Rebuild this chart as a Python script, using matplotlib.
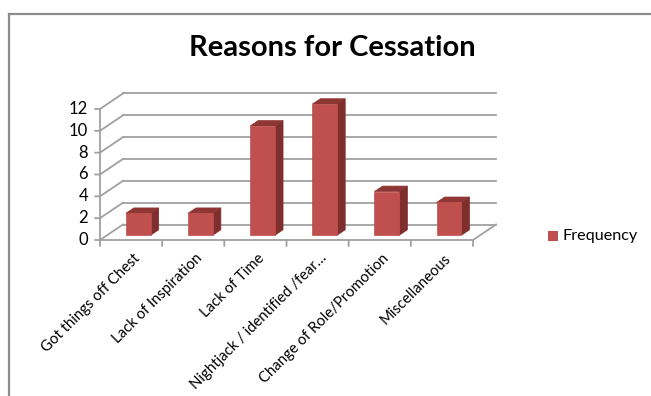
import matplotlib
matplotlib.use("Agg")
import matplotlib.pyplot as plt
from matplotlib.patches import Polygon, Rectangle

categories = ["Got things off Chest", "Lack of Inspiration", "Lack of Time",
              "Nightjack / identified /fear…", "Change of Role/Promotion", "Miscellaneous"]
frequency = [2, 2, 10, 12, 4, 3]
yticks = [0, 2, 4, 6, 8, 10, 12]
title = "Reasons for Cessation"
series_name = "Frequency"

FONT = "Lato"
W, H = 651, 396
fig = plt.figure(figsize=(W / 100, H / 100), dpi=100)

# pixel geometry of the plot region
px_x0, px_xunit = 100, 62.17
px_y0, px_yunit = 240, 10.92
DX, DY = 23 / px_xunit, 15.5 / px_yunit   # depth vector in data units
n = len(categories)
ymax = max(yticks)

ax = fig.add_axes([px_x0 / W, (H - px_y0) / H,
                   (n + DX) * px_xunit / W, (ymax + DY) * px_yunit / H])
ax.set_xlim(0, n + DX)
ax.set_ylim(0, ymax + DY)
ax.axis("off")

grid_c = "#A0A0A0"
lw = 1.3

def P(x, y, d):
    return (x + d * DX, y + d * DY)

# walls / gridlines
for v in yticks:
    ax.plot(*zip(P(0, v, 0), P(0, v, 1)), color=grid_c, lw=lw, clip_on=False, zorder=1)
    ax.plot(*zip(P(0, v, 1), P(n, v, 1)), color=grid_c, lw=lw, clip_on=False, zorder=1)
# floor
ax.plot(*zip(P(0, 0, 0), P(n, 0, 0)), color=grid_c, lw=lw, clip_on=False, zorder=2)
ax.plot(*zip(P(n, 0, 0), P(n, 0, 1)), color=grid_c, lw=lw, clip_on=False, zorder=2)
# front y axis
ax.plot(*zip(P(0, 0, 0), P(0, ymax, 0)), color=grid_c, lw=lw, clip_on=False, zorder=2)

# y ticks and labels
for v in yticks:
    ax.annotate("", xy=(0, v), xytext=(-5, 0), textcoords="offset pixels",
                arrowprops=dict(arrowstyle="-", color=grid_c, lw=lw,
                                shrinkA=0, shrinkB=0))
    ax.annotate(str(v), xy=(0, v), xytext=(-12, 0), textcoords="offset pixels",
                ha="right", va="center", fontsize=12, family=FONT, color="#000000")

# x ticks
for i in range(n + 1):
    ax.annotate("", xy=(i, 0), xytext=(0, -6), textcoords="offset pixels",
                arrowprops=dict(arrowstyle="-", color=grid_c, lw=lw,
                                shrinkA=0, shrinkB=0))

# category labels
for i, c in enumerate(categories):
    ax.annotate(c, xy=(i + 0.5, 0), xytext=(2, -11), textcoords="offset pixels",
                ha="right", va="top", rotation=45, rotation_mode="anchor",
                fontsize=10.7, family=FONT, color="#000000")

# bars
front_c, side_c, top_c = "#C0504D", "#7E2F2D", "#8E3634"
d0, d1 = 0.31, 0.66
bw = 0.4
for i, v in enumerate(frequency):
    xl = i + (1 - bw) / 2
    xr = xl + bw
    front = [P(xl, 0, d0), P(xr, 0, d0), P(xr, v, d0), P(xl, v, d0)]
    side = [P(xr, 0, d0), P(xr, 0, d1), P(xr, v, d1), P(xr, v, d0)]
    top = [P(xl, v, d0), P(xr, v, d0), P(xr, v, d1), P(xl, v, d1)]
    for poly, col in ((side, side_c), (top, top_c), (front, front_c)):
        ax.add_patch(Polygon(poly, closed=True, facecolor=col, edgecolor=col,
                             lw=0.5, zorder=5, clip_on=False))

# title
fig.text(332 / W, 1 - 48 / H, title, ha="center", va="center",
         fontsize=21, fontweight="bold", family=FONT, color="#000000")

# legend
fig.patches.append(Rectangle((548 / W, 1 - 241 / H), 10 / W, 10 / H,
                             transform=fig.transFigure, facecolor=front_c,
                             edgecolor="none"))
fig.text(563 / W, 1 - 236 / H, series_name, ha="left", va="center",
         fontsize=11.6, family=FONT, color="#000000")

# outer chart border
fig.add_artist(plt.Line2D([9 / W, 9 / W], [0, 1 - 14 / H], transform=fig.transFigure,
                          color="#8C8C8C", lw=1.6))
fig.add_artist(plt.Line2D([9 / W, 1], [1 - 14 / H, 1 - 14 / H], transform=fig.transFigure,
                          color="#8C8C8C", lw=1.6))

fig.savefig("out.png", dpi=100, facecolor="white")
